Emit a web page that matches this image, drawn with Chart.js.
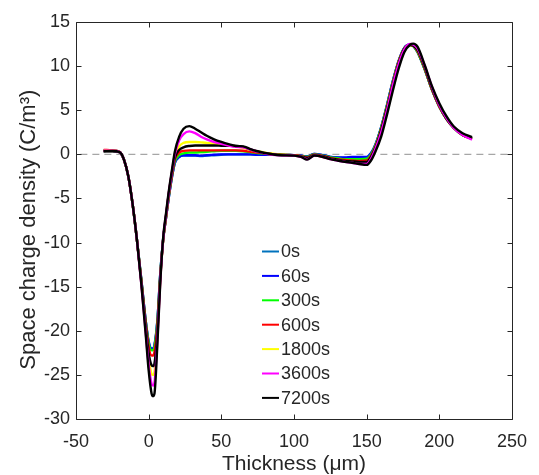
<!DOCTYPE html>
<html>
<head>
<meta charset="utf-8">
<script src="https://cdn.jsdelivr.net/npm/chart.js@4"></script>
<style>
  html, body { margin: 0; padding: 0; background: #fff; overflow: hidden; }
</style>
</head>
<body>
<canvas id="chart" width="539" height="475"></canvas>
<script>
// thickness positions (um)
var thickness = [-31, -25, -20, -17, -14, -11, -8, -5, -2, 0,
  2, 3, 4, 6, 8, 10, 12, 14, 16, 18,
  21, 24, 28, 32, 36, 40, 45, 50, 55, 60,
  65, 70, 75, 80, 90, 100, 105, 109, 114, 120,
  125, 130, 135, 140, 145, 150, 153, 156, 160, 164,
  168, 172, 176, 180, 182, 185, 190, 195, 200, 205,
  210, 216, 222.5];

var rho0s = [0.4, 0.4, 0.25, -0.6, -2.5, -5.7, -9.8, -14.3, -18.9, -21.3,
  -22.1, -22.1, -21.7, -18.9, -13.5, -9.6, -7.1, -4.7, -2.6, -1.0,
  -0.3, -0.15, -0.15, -0.15, -0.2, -0.15, -0.1, -0.05, 0.0, 0.0,
  0.0, 0.0, -0.05, -0.05, -0.05, -0.1, -0.15, -0.25, 0.05, -0.1,
  -0.3, -0.35, -0.4, -0.35, -0.35, -0.35, 0.1, 1.1, 3.1, 5.6,
  8.3, 10.6, 12.1, 12.45, 12.3, 11.6, 9.6, 7.3, 5.4, 4.0,
  3.0, 2.2, 1.8];

var rho60s = [0.4, 0.4, 0.25, -0.6, -2.5, -5.7, -9.8, -14.3, -18.9, -21.2,
  -22.0, -22.0, -21.6, -18.8, -13.5, -9.6, -7.1, -4.7, -2.6, -1.0,
  -0.3, -0.1, -0.1, -0.1, -0.15, -0.1, -0.05, 0.0, 0.0, 0.0,
  0.0, 0.0, -0.05, -0.05, -0.05, -0.1, -0.15, -0.25, 0.05, -0.1,
  -0.3, -0.35, -0.35, -0.3, -0.3, -0.3, 0.15, 1.1, 3.1, 5.6,
  8.3, 10.6, 12.1, 12.45, 12.3, 11.6, 9.6, 7.3, 5.4, 4.0,
  3.0, 2.2, 1.8];

var rho300s = [0.4, 0.4, 0.25, -0.6, -2.5, -5.7, -9.8, -14.3, -19.0, -21.4,
  -22.2, -22.2, -21.8, -19.0, -13.6, -9.6, -7.1, -4.6, -2.5, -0.8,
  -0.1, 0.1, 0.2, 0.2, 0.25, 0.3, 0.35, 0.4, 0.4, 0.4,
  0.35, 0.25, 0.15, 0.05, -0.05, -0.1, -0.2, -0.3, 0.0, -0.15,
  -0.35, -0.45, -0.55, -0.55, -0.55, -0.5, 0.0, 1.0, 3.0, 5.5,
  8.2, 10.5, 12.0, 12.4, 12.3, 11.6, 9.6, 7.3, 5.4, 4.0,
  3.0, 2.2, 1.8];

var rho600s = [0.5, 0.45, 0.3, -0.6, -2.5, -5.7, -9.8, -14.4, -19.2, -21.8,
  -22.8, -22.8, -22.4, -19.4, -13.8, -9.7, -7.1, -4.5, -2.4, -0.6,
  0.2, 0.4, 0.45, 0.45, 0.45, 0.45, 0.45, 0.45, 0.45, 0.45,
  0.4, 0.3, 0.2, 0.1, -0.05, -0.1, -0.2, -0.35, -0.05, -0.2,
  -0.4, -0.55, -0.65, -0.7, -0.75, -0.7, -0.15, 0.9, 2.9, 5.4,
  8.1, 10.5, 12.0, 12.4, 12.3, 11.7, 9.7, 7.3, 5.4, 4.0,
  3.0, 2.2, 1.75];

var rho1800s = [0.4, 0.4, 0.25, -0.6, -2.5, -5.7, -9.8, -14.6, -19.8, -23.0,
  -24.9, -25.0, -24.7, -20.5, -14.2, -9.6, -6.9, -4.3, -2.1, -0.3,
  0.9, 1.3, 1.4, 1.4, 1.35, 1.3, 1.2, 1.1, 1.0, 0.9,
  0.75, 0.5, 0.35, 0.2, 0.0, -0.15, -0.25, -0.45, -0.1, -0.3,
  -0.5, -0.65, -0.8, -0.85, -0.95, -0.9, -0.3, 0.8, 2.8, 5.3,
  8.0, 10.4, 12.0, 12.4, 12.3, 11.8, 9.8, 7.4, 5.5, 4.0,
  3.0, 2.2, 1.75];

// extra black trace drawn in the figure without a legend entry
var rhoExtra = [0.35, 0.35, 0.25, -0.6, -2.5, -5.7, -9.8, -14.5, -19.5, -22.5,
  -23.9, -24.0, -23.7, -20.0, -14.0, -9.6, -6.9, -4.3, -2.2, -0.4,
  0.5, 0.8, 0.95, 1.0, 1.0, 1.0, 1.0, 0.98, 0.96, 0.95,
  0.85, 0.55, 0.3, 0.1, -0.05, -0.15, -0.25, -0.4, -0.1, -0.25,
  -0.45, -0.6, -0.75, -0.8, -0.85, -0.85, -0.25, 0.8, 2.8, 5.3,
  8.0, 10.4, 12.0, 12.4, 12.3, 11.8, 9.8, 7.4, 5.5, 4.0,
  3.0, 2.2, 1.75];

var rho3600s = [0.4, 0.4, 0.25, -0.6, -2.5, -5.7, -9.8, -14.8, -20.2, -23.8,
  -26.0, -26.2, -25.9, -21.0, -14.3, -9.5, -6.8, -4.2, -2.0, 0.0,
  1.6, 2.3, 2.6, 2.4, 2.0, 1.7, 1.4, 1.2, 1.0, 0.85,
  0.8, 0.55, 0.3, 0.1, -0.1, -0.15, -0.3, -0.55, -0.15, -0.3,
  -0.55, -0.7, -0.85, -0.95, -1.1, -1.1, -0.5, 0.6, 2.5, 5.0,
  7.8, 10.2, 11.9, 12.5, 12.45, 12.0, 10.0, 7.6, 5.6, 4.1,
  3.0, 2.2, 1.65];

var rho7200s = [0.35, 0.38, 0.25, -0.6, -2.5, -5.7, -9.8, -14.8, -20.5, -24.5,
  -27.1, -27.4, -27.1, -21.5, -14.5, -9.4, -6.6, -4.0, -1.8, 0.3,
  2.0, 2.9, 3.2, 2.9, 2.5, 2.1, 1.7, 1.4, 1.15, 0.95,
  0.9, 0.6, 0.35, 0.15, -0.1, -0.15, -0.3, -0.6, -0.15, -0.3,
  -0.55, -0.7, -0.85, -0.95, -1.1, -1.2, -0.7, 0.3, 2.0, 4.5,
  7.2, 9.7, 11.6, 12.45, 12.55, 12.2, 10.1, 7.7, 5.8, 4.3,
  3.15, 2.4, 1.95];

// zero reference line
var zeroX = [-47, 248];
var zeroY = [0, 0];

var xTickValues = [-50, 0, 50, 100, 150, 200, 250];
var yTickValues = [-30, -25, -20, -15, -10, -5, 0, 5, 10, 15];

var FONT = "'Liberation Sans', Arial, Helvetica, sans-serif";
var AXIS = '#262626';

function pts(xs, ys) {
  return xs.map(function (x, i) { return { x: x, y: ys[i] }; });
}

var series = [
  { label: '0s', data: rho0s, color: '#0072BD' },
  { label: '60s', data: rho60s, color: '#0000FF' },
  { label: '300s', data: rho300s, color: '#00FF00' },
  { label: '600s', data: rho600s, color: '#FF0000' },
  { label: '1800s', data: rho1800s, color: '#FFFF00' },
  { label: '', data: rhoExtra, color: '#000000' },
  { label: '3600s', data: rho3600s, color: '#FF00FF' },
  { label: '7200s', data: rho7200s, color: '#000000' }
];

var datasets = series.map(function (s, i) {
  return {
    label: s.label,
    data: pts(thickness, s.data),
    borderColor: s.color,
    backgroundColor: s.color,
    borderWidth: 2.4,
    pointRadius: 0,
    cubicInterpolationMode: 'monotone',
    order: series.length - i
  };
});
datasets.push({
  label: '',
  data: pts(zeroX, zeroY),
  borderColor: '#a6a6a6',
  borderWidth: 1.2,
  borderDash: [7, 5],
  pointRadius: 0,
  order: 100
});

// box, inward ticks and the legend, drawn like the MATLAB axes
const framePlugin = {
  id: 'frame',
  afterDraw(chart) {
    const c = chart.ctx, a = chart.chartArea;
    const xs = chart.scales.x, ys = chart.scales.y;
    const L = Math.round(a.left) + 0.5, R = Math.round(a.right) + 0.5;
    const T = Math.round(a.top) + 0.5, B = Math.round(a.bottom) + 0.5;
    c.save();
    c.strokeStyle = AXIS;
    c.lineWidth = 1;
    c.beginPath();
    c.rect(L, T, R - L, B - T);
    xTickValues.forEach(function (v) {
      const p = Math.round(xs.getPixelForValue(v)) + 0.5;
      c.moveTo(p, B); c.lineTo(p, B - 5);
      c.moveTo(p, T); c.lineTo(p, T + 5);
    });
    yTickValues.forEach(function (v) {
      const p = Math.round(ys.getPixelForValue(v)) + 0.5;
      c.moveTo(L, p); c.lineTo(L + 5, p);
      c.moveTo(R, p); c.lineTo(R - 5, p);
    });
    c.stroke();

    // legend
    let y = 251.5;
    c.font = '18px ' + FONT;
    c.textBaseline = 'middle';
    c.textAlign = 'left';
    chart.data.datasets.forEach(function (ds) {
      if (!ds.label) return;
      c.strokeStyle = ds.borderColor;
      c.lineWidth = 2;
      c.beginPath();
      c.moveTo(262, y); c.lineTo(279, y);
      c.stroke();
      c.fillStyle = AXIS;
      c.fillText(ds.label, 281, y + 1);
      y += 24.4;
    });
    c.restore();
  }
};

const ctx = document.getElementById('chart').getContext('2d');
const chart = new Chart(ctx, {
  type: 'line',
  data: { datasets: datasets },
  options: {
    responsive: false,
    animation: false,
    layout: { padding: { left: 0, right: 17, top: 22, bottom: 0 } },
    plugins: {
      legend: { display: false },
      tooltip: { enabled: false }
    },
    scales: {
      x: {
        type: 'linear',
        min: -50,
        max: 250,
        afterBuildTicks: function (s) { s.ticks = xTickValues.map(function (v) { return { value: v }; }); },
        afterFit: function (s) { s.height = 56; },
        grid: { display: false, drawTicks: false },
        border: { display: false },
        ticks: { padding: 12, color: AXIS, maxRotation: 0, font: { family: FONT, size: 18 } },
        title: {
          display: true,
          text: 'Thickness (μm)',
          color: AXIS,
          font: { family: FONT, size: 21, lineHeight: 1 },
          padding: { top: 0, bottom: 0 }
        }
      },
      y: {
        type: 'linear',
        min: -30,
        max: 15,
        afterBuildTicks: function (s) { s.ticks = yTickValues.map(function (v) { return { value: v }; }); },
        afterFit: function (s) { s.width = 76; },
        grid: { display: false, drawTicks: false },
        border: { display: false },
        ticks: { padding: 6, color: AXIS, font: { family: FONT, size: 18 } },
        title: {
          display: true,
          text: 'Space charge density (C/m³)   ',
          color: AXIS,
          font: { family: FONT, size: 22, lineHeight: 1 },
          padding: { top: 18, bottom: 0 }
        }
      }
    }
  },
  plugins: [framePlugin]
});
</script>
</body>
</html>
